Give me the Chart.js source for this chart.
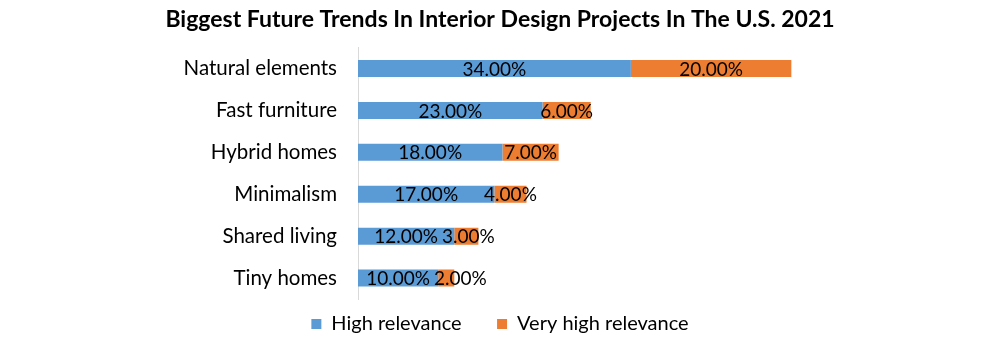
<!DOCTYPE html>
<html>
<head>
<meta charset="utf-8">
<script src="https://cdn.jsdelivr.net/npm/chart.js@4.4.1/dist/chart.umd.min.js"></script>
<style>
  html, body { margin: 0; padding: 0; background: #fff; }
  #wrap { width: 1004px; height: 344px; position: relative; }
</style>
</head>
<body>
<div id="wrap"><canvas id="chart"></canvas></div>
<script>
const categories = ['Natural elements', 'Fast furniture', 'Hybrid homes', 'Minimalism', 'Shared living', 'Tiny homes'];
const highRelevance = [34, 23, 18, 17, 12, 10];
const veryHighRelevance = [20, 6, 7, 4, 3, 2];
const seriesNames = ['High relevance', 'Very high relevance'];

const FONT = 'Lato, "Open Sans", sans-serif';

// percentage labels in the middle of each segment, nudged right if they would overlap
const segmentLabels = {
  id: 'segmentLabels',
  afterDatasetsDraw(chart) {
    const ctx = chart.ctx;
    ctx.save();
    ctx.font = '19px ' + FONT;
    ctx.fillStyle = '#000';
    ctx.textBaseline = 'middle';
    ctx.textAlign = 'left';
    const prevEnd = {};
    chart.data.datasets.forEach((ds, di) => {
      const meta = chart.getDatasetMeta(di);
      meta.data.forEach((bar, i) => {
        const text = ds.data[i].toFixed(2) + '%';
        const w = ctx.measureText(text).width;
        let start = (bar.x + bar.base) / 2 - w / 2;
        if (prevEnd[i] !== undefined) start = Math.max(start, prevEnd[i] + 4);
        ctx.fillText(text, start, bar.y + 1);
        prevEnd[i] = start + w;
      });
    });
    ctx.restore();
  }
};

const defaultLabels = Chart.defaults.plugins.legend.labels.generateLabels;

new Chart(document.getElementById('chart'), {
  type: 'bar',
  data: {
    labels: categories,
    datasets: [
      { label: seriesNames[0], data: highRelevance, backgroundColor: '#5B9BD5' },
      { label: seriesNames[1], data: veryHighRelevance, backgroundColor: '#ED7D31' },
    ],
  },
  options: {
    indexAxis: 'y',
    responsive: true,
    maintainAspectRatio: false,
    animation: false,
    barPercentage: 0.81,
    categoryPercentage: 0.5,
    layout: { padding: { left: 0, right: 4, top: 0, bottom: 0 } },
    scales: {
      x: { stacked: true, min: 0, max: 80, display: false },
      y: {
        stacked: true,
        grid: { display: false, drawTicks: false },
        border: { display: true, color: '#d9d9d9', width: 1 },
        ticks: { color: '#000', font: { family: FONT, size: 20.5 }, padding: 21 },
        afterFit(scale) { scale.width = 358; },
      },
    },
    plugins: {
      title: {
        display: true,
        text: 'Biggest Future Trends In Interior Design Projects In The U.S. 2021',
        color: '#000',
        font: { family: FONT, size: 23, weight: 'bold' },
        padding: { top: 6, bottom: 14 },
      },
      legend: {
        position: 'bottom',
        labels: {
          color: '#000',
          font: { family: FONT, size: 20 },
          boxWidth: 10,
          boxHeight: 10,
          padding: 15,
          generateLabels(chart) {
            const items = defaultLabels(chart);
            // widen the gap between the two legend entries
            items[0].text += '    ';
            return items;
          },
        },
      },
      tooltip: { enabled: false },
    },
  },
  plugins: [segmentLabels],
});
</script>
</body>
</html>
